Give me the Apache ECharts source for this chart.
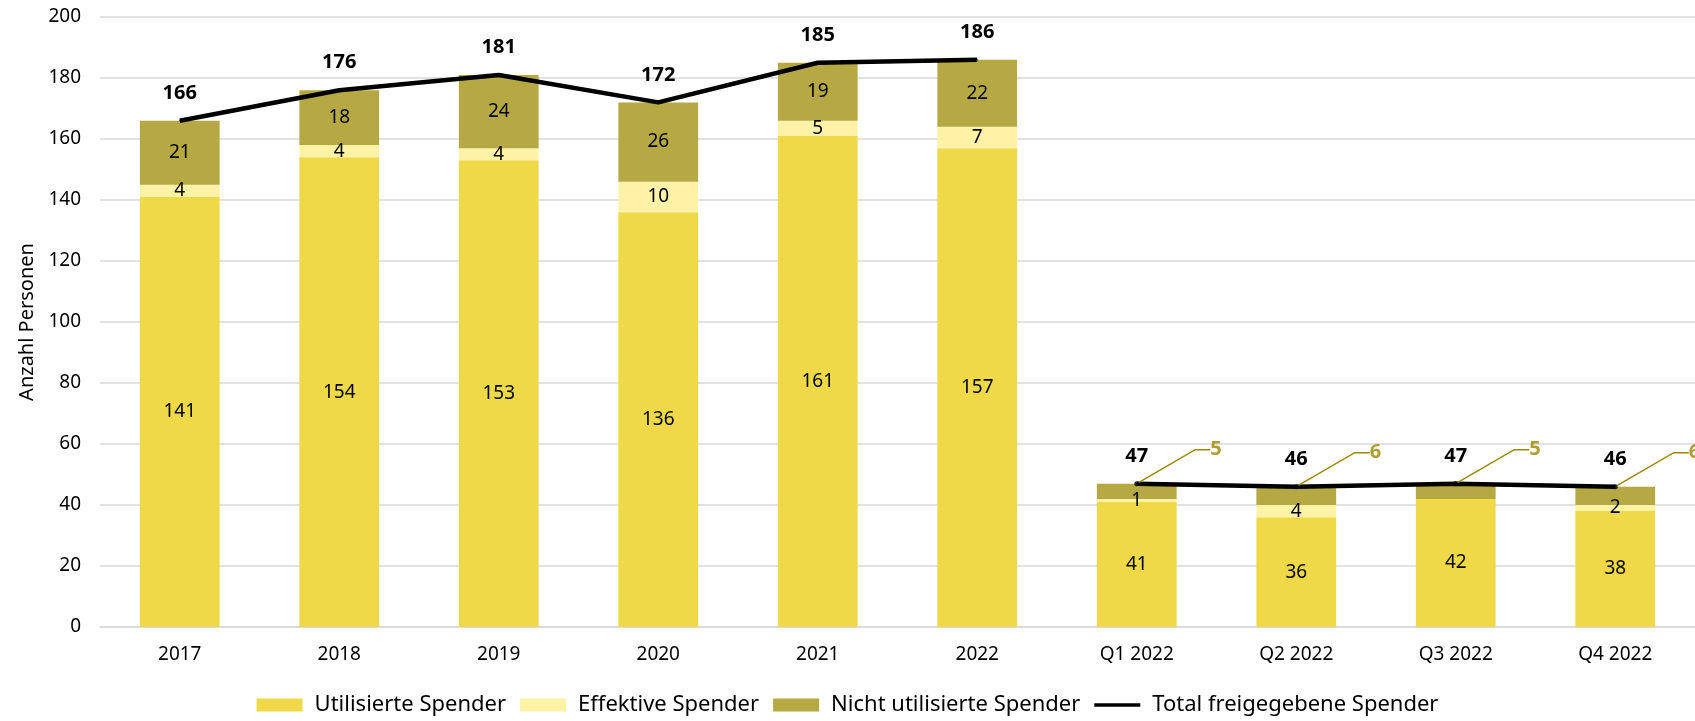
<!DOCTYPE html>
<html><head><meta charset="utf-8">
<script src="https://cdn.jsdelivr.net/npm/echarts@6/dist/echarts.min.js"></script>
<style>html,body{margin:0;padding:0;background:#fff}#c{width:1695px;height:721px}</style>
</head><body><div id="c"></div>
<script>
const categories = ['2017','2018','2019','2020','2021','2022','Q1 2022','Q2 2022','Q3 2022','Q4 2022'];
const utilisiert = [141,154,153,136,161,157,41,36,42,38];
const effektiv = [4,4,4,10,5,7,1,4,0,2];
const nichtUtilisiert = [21,18,24,26,19,22,5,6,5,6];
const total = [166,176,181,172,185,186,47,46,47,46];
const yearCount = 6;
const yTicks = [0,20,40,60,80,100,120,140,160,180,200];

const FONT = 'Noto Sans';
const chart = echarts.init(document.getElementById('c'));

const totalYears = total.map((v,i)=> i < yearCount ? v : '-');
const totalQuarters = total.map((v,i)=> i >= yearCount ? v : '-');
const nichtBar = nichtUtilisiert.map((v,i)=> ({value: v, label: {show: i < yearCount}}));
const calloutData = categories.map((c,i)=> i >= yearCount ? [i, total[i], nichtUtilisiert[i]] : null).filter(Boolean);

const lineLabel = {show:true, position:'top', distance:17, color:'#000', fontWeight:'bold', fontSize:20, fontFamily:FONT};
const dataLabel = {show:true, position:'inside', color:'#000', fontSize:19, fontFamily:FONT};

chart.setOption({
  animation:false,
  textStyle:{fontFamily:FONT},
  grid:{left:100, right:-25, top:17, bottom:94},
  legend:{
    bottom:0, left:'center', itemWidth:46, itemHeight:13, itemGap:14,
    textStyle:{fontSize:22, color:'#000', fontFamily:FONT, padding:[0,0,0,7]},
    data:[
      {name:'Utilisierte Spender', icon:'rect'},
      {name:'Effektive Spender', icon:'rect'},
      {name:'Nicht utilisierte Spender', icon:'rect'},
      {name:'Total freigegebene Spender', icon:'path://M0,4 L50,4 L50,8 L0,8 Z'}
    ]
  },
  xAxis:{
    type:'category', data:categories,
    axisLine:{lineStyle:{color:'#D9D9D9', width:1.5}},
    axisTick:{show:false},
    axisLabel:{color:'#000', fontSize:19, margin:18, fontFamily:FONT}
  },
  yAxis:{
    type:'value', min:0, max:200, interval:20,
    name:'Anzahl Personen', nameLocation:'middle', nameGap:63,
    nameTextStyle:{fontSize:20, color:'#000', fontFamily:FONT},
    axisLabel:{color:'#000', fontSize:19, margin:19, fontFamily:FONT,
      formatter:v=> yTicks.includes(v) ? String(v) : ''},
    splitLine:{lineStyle:{color:'#D9D9D9', width:1.5}},
    axisLine:{show:false}, axisTick:{show:false}
  },
  series:[
    {name:'Utilisierte Spender', type:'bar', stack:'s', barWidth:'50%', data:utilisiert,
     itemStyle:{color:'#EFD948'}, label:dataLabel},
    {name:'Effektive Spender', type:'bar', stack:'s', data:effektiv,
     itemStyle:{color:'#FDF2A6'},
     label:Object.assign({}, dataLabel, {formatter:p=> p.value ? String(p.value) : ''})},
    {name:'Nicht utilisierte Spender', type:'bar', stack:'s', data:nichtBar,
     itemStyle:{color:'#B6A843'}, label:dataLabel},
    {name:'Total freigegebene Spender', type:'line', data:totalYears, symbol:'circle', symbolSize:1, showSymbol:true,
     lineStyle:{color:'#000', width:4.5}, itemStyle:{color:'#000'}, label:lineLabel, z:5},
    {name:'Total freigegebene Spender', type:'line', data:totalQuarters, symbol:'circle', symbolSize:1, showSymbol:true,
     lineStyle:{color:'#000', width:4.5}, itemStyle:{color:'#000'}, label:lineLabel, z:5},
    {name:'callout', type:'scatter', data:calloutData, symbolSize:5, z:6,
     itemStyle:{color:'#000'},
     encode:{x:0, y:1},
     label:{show:true, position:'right', color:'#9A8700', fontWeight:'bold', fontSize:20, fontFamily:FONT,
       formatter:p=> String(p.value[2])},
     labelLayout:{dx:66, dy:-34},
     labelLine:{show:true, length2:15, lineStyle:{color:'#9A8700', width:1.5}}}
  ]
});
</script></body></html>
